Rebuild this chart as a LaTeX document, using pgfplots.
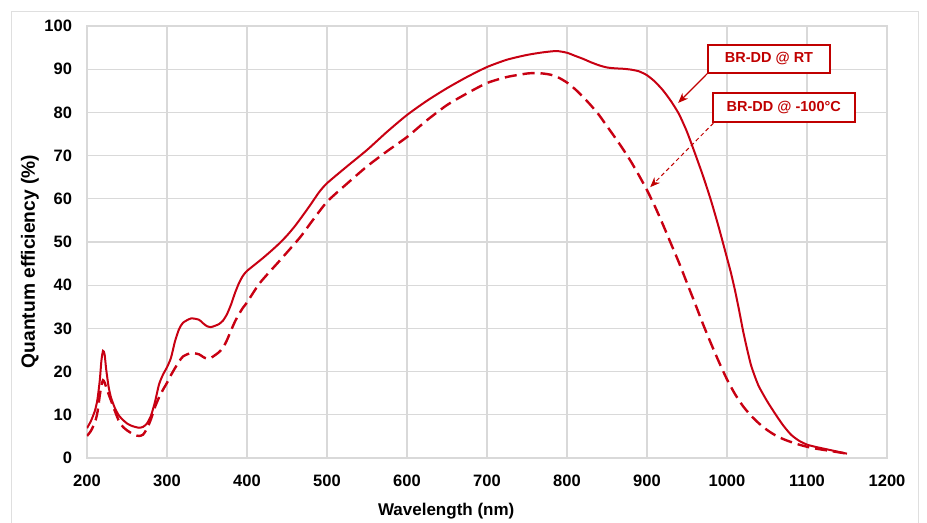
\documentclass[border=0pt]{standalone}
\usepackage{pgfplots}
\pgfplotsset{compat=1.18}
\usepackage{fontspec}
\setmainfont{Liberation Sans}
\usetikzlibrary{arrows.meta}
\definecolor{qered}{RGB}{200,0,18}
\definecolor{boxred}{RGB}{192,0,0}
\definecolor{gridgray}{RGB}{217,217,217}

\begin{document}
\begin{tikzpicture}[font=\bfseries]
\useasboundingbox (-43.5pt,-32.5pt) rectangle (420pt,229pt);
\draw[gray!25] (-38pt,-40pt) rectangle (415.5pt,223.5pt);
\begin{axis}[
    at={(0,0)}, anchor=south west,
    scale only axis, width=400pt, height=216pt,
    xmin=200, xmax=1200, ymin=0, ymax=100,
    xtick={200,300,...,1200}, ytick={0,10,...,100},
    grid=major,
    major grid style={gridgray, line width=0.6pt},
    axis line style={gridgray, line width=0.6pt},
    tick style={draw=none},
    ticklabel style={font=\fontsize{8.25}{10}\selectfont\bfseries},
    /pgf/number format/assume math mode=true,
    /pgf/number format/set thousands separator={},
    yticklabel style={xshift=-4pt},
    xticklabel style={yshift=-5pt},
    xlabel={Wavelength (nm)},
    ylabel={Quantum efficiency (\%)},
    xlabel style={at={(axis description cs:0.449,0)}, anchor=center, yshift=-26.5pt,
        font=\fontsize{8.5}{10}\selectfont\bfseries},
    ylabel style={at={(axis description cs:0,0.455)}, anchor=center, yshift=28.5pt,
        font=\fontsize{9.6}{11}\selectfont\bfseries},
]
% BR-DD @ RT
\addplot[qered, line width=1pt, smooth, tension=0.4] coordinates {
(200,6.9)(205,8.6)(210,11)(213,13.5)(216,18)(218,22.5)(220,24.8)(222,24)(224,20.5)
(227,16.5)(230,14)(235,11.5)(240,9.8)(245,8.8)(250,8.0)(255,7.5)(260,7.2)(265,7.0)
(270,7.2)(275,8.0)(280,9.8)(285,13)(290,17)(295,19.3)(300,21)(305,23.2)(310,27)
(315,29.8)(320,31.3)(330,32.3)(340,32)(345,31.2)(350,30.5)(355,30.3)(360,30.6)
(365,31)(370,31.8)(375,33.3)(380,35.5)(385,38.2)(390,40.5)(395,42.2)(400,43.3)
(410,44.8)(420,46.3)(430,47.9)(440,49.6)(450,51.5)(460,53.7)(470,56.2)(480,58.8)
(490,61.5)(500,63.6)(525,67.5)(550,71.3)(575,75.5)(600,79.4)(625,82.7)(650,85.6)
(675,88.2)(700,90.5)(725,92.2)(750,93.3)(770,93.9)(787,94.2)(800,93.8)(810,93.1)
(820,92.4)(830,91.6)(840,90.9)(850,90.4)(860,90.2)(870,90.1)(880,89.9)(890,89.5)
(900,88.6)(910,87.1)(920,85.1)(930,82.6)(940,79.6)(950,75.5)(960,70.5)(970,65.3)
(980,59.6)(990,53.2)(1000,46.3)(1005,42.8)(1010,38.8)(1015,34.3)(1020,29.5)
(1025,25.3)(1030,21.5)(1035,18.8)(1040,16.5)(1050,13.2)(1060,10.3)(1070,7.6)
(1080,5.4)(1090,4.0)(1100,3.1)(1110,2.6)(1120,2.2)(1130,1.8)(1140,1.4)(1150,1.0)
};
% BR-DD @ -100C
\addplot[qered, line width=1.2pt, smooth, tension=0.4, dash pattern=on 6pt off 3pt] coordinates {
(200,5.1)(205,6.3)(210,8.3)(213,10.5)(216,14.5)(218,16.8)(220,18)(222,17.5)(225,15.8)
(229,13.8)(235,10.8)(240,8.5)(245,7.2)(250,6.4)(255,5.8)(260,5.3)(265,5.1)(270,5.4)
(275,6.8)(280,9)(285,11.8)(290,14)(295,15.8)(300,17.4)(305,19.2)(310,20.8)(315,22.3)
(320,23.5)(330,24.3)(340,24)(345,23.4)(350,23)(355,23.2)(360,23.8)(365,24.5)
(370,25.5)(375,27.3)(380,29.5)(385,31.6)(390,33.3)(395,34.8)(400,36)(416,40.5)
(440,45.5)(466,51)(480,54.5)(500,59.3)(525,63.5)(550,67.5)(575,71)(600,74.3)
(625,78.2)(650,81.7)(675,84.4)(700,86.8)(725,88.2)(750,89)(760,89.1)(770,89)
(780,88.7)(790,88)(800,86.9)(810,85.4)(820,83.6)(830,81.6)(840,79.4)(850,76.8)
(860,74.2)(870,71.5)(880,68.6)(890,65.4)(900,62)(910,58.2)(920,54)(930,49.6)
(940,45.2)(950,40.5)(960,35.8)(970,31)(980,26.5)(990,22.2)(1000,18.2)(1010,14.8)
(1020,12)(1030,9.8)(1040,8)(1050,6.5)(1060,5.3)(1070,4.4)(1080,3.7)(1090,3.1)
(1100,2.6)(1110,2.2)(1120,1.9)(1130,1.6)(1140,1.3)(1150,1.0)
};
\draw[boxred, line width=0.6pt, -{Stealth[length=5pt,width=4pt]}]
    (axis cs:976,89.1) -- (axis cs:939,82.2);
\draw[boxred, line width=0.5pt, dash pattern=on 2pt off 1.5pt, -{Stealth[length=5pt,width=4pt]}]
    (axis cs:983,77.5) -- (axis cs:904,62.7);
\node[draw=boxred, line width=0.7pt, fill=white, text=boxred, minimum width=61pt,
    minimum height=14pt, inner sep=0pt, font=\fontsize{7.25}{9}\selectfont\bfseries]
    at (axis cs:1052.5,92.4) {BR-DD @ RT};
\node[draw=boxred, line width=0.7pt, fill=white, text=boxred, minimum width=71pt,
    minimum height=14.5pt, inner sep=0pt, font=\fontsize{7.25}{9}\selectfont\bfseries]
    at (axis cs:1071,81.1) {BR-DD @ -100°C};
\end{axis}
\end{tikzpicture}
\end{document}
